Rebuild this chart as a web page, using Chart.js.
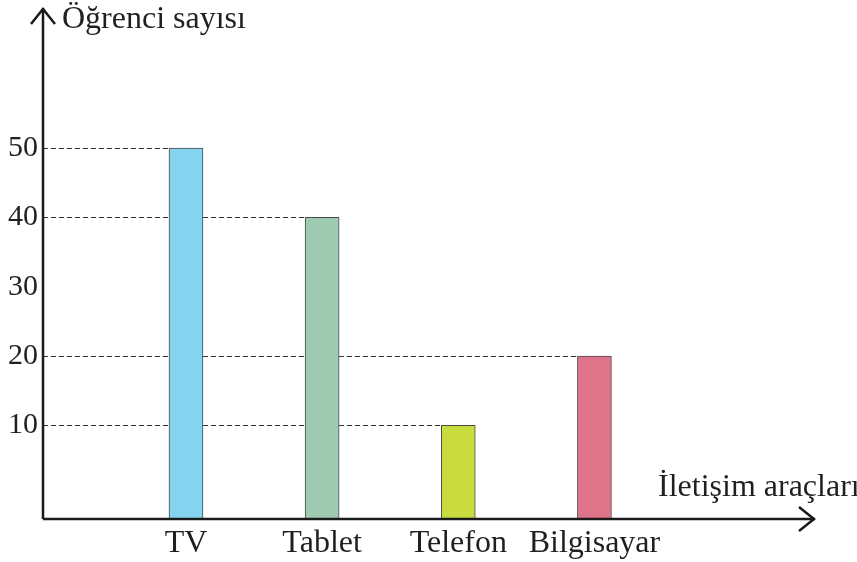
<!DOCTYPE html>
<html>
<head>
<meta charset="utf-8">
<script src="https://cdn.jsdelivr.net/npm/chart.js@4"></script>
<style>
  html, body { margin: 0; padding: 0; background: #fff; }
  #wrap { width: 857px; height: 562px; }
</style>
</head>
<body>
<div id="wrap"><canvas id="chart" width="857" height="562"></canvas></div>
<script>
const categories = ['TV', 'Tablet', 'Telefon', 'Bilgisayar'];
const values = [50, 40, 10, 20];
const yTicks = [10, 20, 30, 40, 50];
const barColors = ['#84d3ef', '#9fcbb3', '#c8dc3e', '#de7389'];
const yTitle = 'Öğrenci sayısı';
const xTitle = 'İletişim araçları';

const FONT = '"Liberation Serif", "Times New Roman", serif';

// dashed guide lines from the y axis to each bar + arrow axes + titles
const axesPlugin = {
  id: 'axesPlugin',
  beforeDatasetsDraw(chart) {
    const ctx = chart.ctx;
    const area = chart.chartArea;
    const meta = chart.getDatasetMeta(0);
    ctx.save();
    ctx.strokeStyle = '#333';
    ctx.lineWidth = 1;
    ctx.setLineDash([5, 3]);
    meta.data.forEach(bar => {
      const y = Math.round(bar.y) + 0.5;
      ctx.beginPath();
      ctx.moveTo(area.left, y);
      ctx.lineTo(bar.x - bar.width / 2, y);
      ctx.stroke();
    });
    ctx.restore();
  },
  afterDraw(chart) {
    const ctx = chart.ctx;
    const area = chart.chartArea;
    ctx.save();
    ctx.strokeStyle = '#1a1a1a';
    ctx.lineWidth = 2.5;
    ctx.lineCap = 'butt';
    ctx.lineJoin = 'miter';
    // y axis
    ctx.beginPath();
    ctx.moveTo(area.left, area.bottom);
    ctx.lineTo(area.left, area.top);
    ctx.stroke();
    ctx.beginPath();
    ctx.moveTo(area.left - 12, area.top + 16);
    ctx.lineTo(area.left, area.top + 1);
    ctx.lineTo(area.left + 12, area.top + 16);
    ctx.stroke();
    // x axis
    ctx.beginPath();
    ctx.moveTo(area.left, area.bottom);
    ctx.lineTo(area.right, area.bottom);
    ctx.stroke();
    ctx.beginPath();
    ctx.moveTo(area.right - 16, area.bottom - 12);
    ctx.lineTo(area.right - 1, area.bottom);
    ctx.lineTo(area.right - 16, area.bottom + 12);
    ctx.stroke();
    // titles
    ctx.fillStyle = '#231f20';
    ctx.font = '32px ' + FONT;
    ctx.textBaseline = 'alphabetic';
    ctx.textAlign = 'left';
    ctx.fillText(yTitle, area.left + 19, area.top + 20);
    ctx.fillText(xTitle, 658, area.bottom - 23);
    ctx.restore();
  }
};

new Chart(document.getElementById('chart'), {
  type: 'bar',
  data: {
    datasets: [{
      data: categories.map((c, i) => ({ x: i + 1, y: values[i] })),
      backgroundColor: barColors,
      borderColor: '#4a4a4a',
      borderWidth: 1,
      borderSkipped: 'start',
      barThickness: 34,
      base: -3.5
    }]
  },
  options: {
    responsive: false,
    animation: false,
    layout: { padding: { top: 8, right: 42, left: 0, bottom: 0 } },
    plugins: { legend: { display: false }, tooltip: { enabled: false } },
    scales: {
      x: {
        type: 'linear',
        offset: false,
        min: -0.05,
        max: 5.62,
        grid: { display: false, drawTicks: false, offset: false },
        border: { display: false },
        afterBuildTicks: s => { s.ticks = categories.map((c, i) => ({ value: i + 1 })); },
        afterFit: s => { s.height = 43; s.paddingLeft = 0; s.paddingRight = 0; },
        ticks: {
          padding: 5,
          color: '#231f20',
          font: { family: FONT, size: 32 },
          maxRotation: 0,
          autoSkip: false,
          callback: v => categories[v - 1] || ''
        }
      },
      y: {
        min: -3.5,
        max: 70.2,
        grid: { display: false, drawTicks: false },
        border: { display: false },
        afterBuildTicks: s => { s.ticks = yTicks.map(v => ({ value: v })); },
        afterFit: s => { s.width = 43; s.paddingTop = 0; s.paddingBottom = 0; },
        ticks: {
          padding: 5,
          color: '#231f20',
          font: { family: FONT, size: 30 }
        }
      }
    }
  },
  plugins: [axesPlugin]
});
</script>
</body>
</html>
